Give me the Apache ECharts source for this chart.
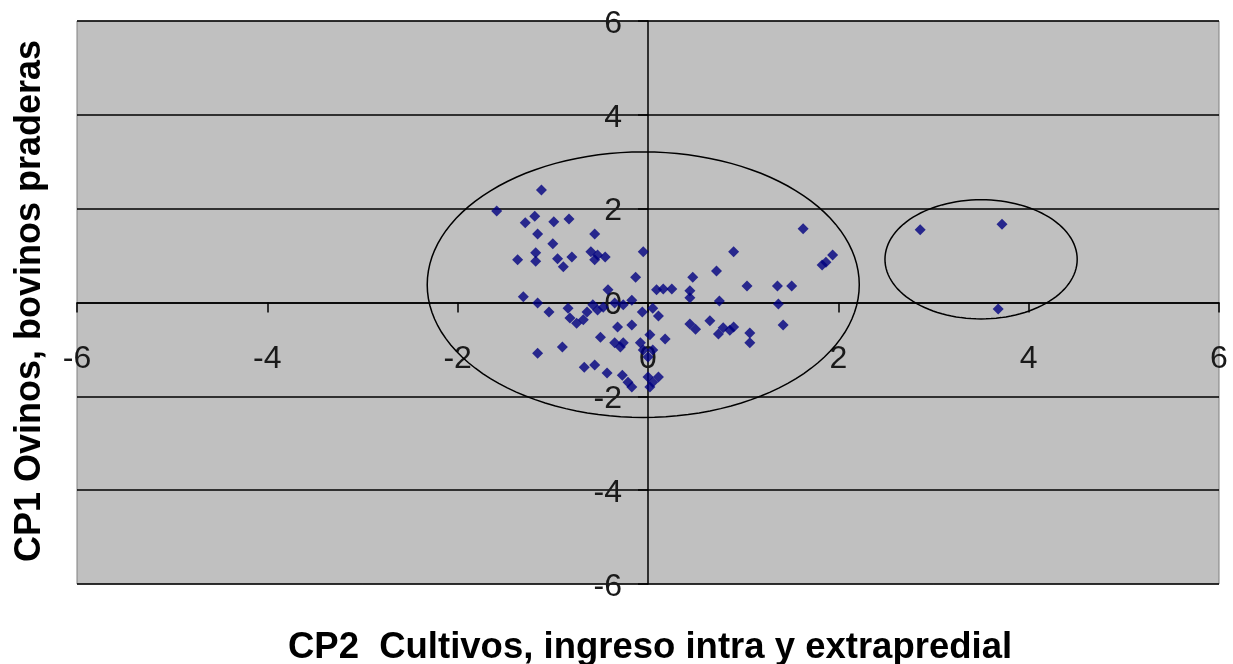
<!DOCTYPE html>
<html>
<head>
<meta charset="utf-8">
<title>CP1 vs CP2</title>
<script src="https://cdn.jsdelivr.net/npm/echarts@6/dist/echarts.min.js"></script>
<style>
  html, body { margin: 0; padding: 0; background: #ffffff; }
  #chart { width: 1233px; height: 664px; }
</style>
</head>
<body>
<div id="chart"></div>
<script>
// Component scores: CP2 on the horizontal axis, CP1 on the vertical axis
const cp2 = [
  -1.12, -1.59, -1.19, -1.29, -0.99, -0.83, -1.16, -1.00, -0.56, -1.37,
  -1.18, -1.18, -0.95, -0.89, -0.80, -0.60, -0.56, -0.45, -0.53, -0.05,
  -0.13, -0.42, -1.31, -1.16, -1.04, -0.84, -0.82, -0.75, -0.68, -0.64,
  -0.58, -0.53, -0.47, -0.35, -0.26, -0.17, -0.06, 0.05, 0.11, 0.09,
  0.16, 0.25, 0.44, 0.44, 0.47, -0.32, -0.17, -0.50, -0.35, -0.29,
  -0.26, 0.02, 0.18, -0.08, -0.05, 0.00, 0.05, -1.16, -0.90, -0.67,
  -0.56, -0.43, -0.27, -0.21, -0.17, 0.00, 0.05, 0.02, 0.11, 0.44,
  0.50, 0.65, 0.75, 0.72, 0.90, 1.04, 1.36, 1.51, 1.37, 0.79,
  0.86, 0.90, 0.74, 1.07, 1.07, 1.42, 1.63, 1.94, 1.83, 1.87,
  2.86, 3.72, 3.68
];
const cp1 = [
  2.40, 1.95, 1.84, 1.70, 1.72, 1.78, 1.46, 1.25, 1.46, 0.91,
  1.06, 0.88, 0.93, 0.76, 0.97, 1.08, 0.91, 0.97, 1.01, 1.08,
  0.54, 0.27, 0.12, -0.01, -0.20, -0.12, -0.33, -0.44, -0.37, -0.20,
  -0.05, -0.16, -0.10, -0.01, -0.05, 0.05, -0.20, -0.12, -0.29, 0.27,
  0.29, 0.29, 0.25, 0.10, 0.54, -0.52, -0.48, -0.74, -0.86, -0.95,
  -0.86, -0.69, -0.78, -0.86, -1.01, -1.16, -1.01, -1.08, -0.95, -1.38,
  -1.33, -1.50, -1.55, -1.70, -1.80, -1.59, -1.70, -1.80, -1.59, -0.46,
  -0.57, -0.39, 0.03, 0.67, 1.08, 0.35, 0.35, 0.35, -0.03, -0.54,
  -0.59, -0.52, -0.67, -0.65, -0.86, -0.48, 1.57, 1.01, 0.80, 0.86,
  1.55, 1.67, -0.14
];

// Group outlines: centre and half-axes in data units
const groupCx = [-0.05, 3.50];
const groupCy = [0.38, 0.92];
const groupRx = [2.27, 1.01];
const groupRy = [2.83, 1.27];

// Axis ticks shared by both axes
const axisTicks = [-6, -4, -2, 0, 2, 4, 6];

const xTitle = 'CP2  Cultivos, ingreso intra y extrapredial';
const yTitle = 'CP1 Ovinos, bovinos praderas';

const points = cp2.map((x, i) => [x, cp1[i]]);
const groups = groupCx.map((c, i) => [c, groupCy[i], groupRx[i], groupRy[i]]);

const tickMin = axisTicks[0];
const tickMax = axisTicks[axisTicks.length - 1];
const tickStep = axisTicks[1] - axisTicks[0];

const FONT = 'Liberation Sans, Arial, sans-serif';
const labelFont = { fontFamily: FONT, fontSize: 32, color: '#1a1a1a' };
const axisLineStyle = { color: '#000', width: 1.5 };

const chart = echarts.init(document.getElementById('chart'), null, { renderer: 'canvas' });

chart.setOption({
  animation: false,
  backgroundColor: '#ffffff',
  grid: {
    left: 77,
    right: 14,
    top: 21,
    bottom: 80,
    show: true,
    backgroundColor: '#c0c0c0',
    borderColor: '#808080',
    borderWidth: 1
  },
  xAxis: {
    type: 'value',
    min: tickMin,
    max: tickMax,
    interval: tickStep,
    axisLine: { show: true, onZero: false, lineStyle: axisLineStyle },
    axisTick: { show: true, length: 10, lineStyle: axisLineStyle },
    axisLabel: Object.assign({ margin: 41, showMinLabel: true, showMaxLabel: true }, labelFont),
    splitLine: { show: false }
  },
  yAxis: {
    type: 'value',
    min: tickMin,
    max: tickMax,
    interval: tickStep,
    axisLine: { show: true, onZero: false, lineStyle: axisLineStyle },
    axisTick: { show: true, length: 10, lineStyle: axisLineStyle },
    axisLabel: Object.assign({
      margin: 26,
      showMinLabel: true,
      showMaxLabel: true,
      // labels sit a couple of pixels below their tick
      formatter: function (v) { return '{n|' + v + '}'; },
      rich: { n: Object.assign({ padding: [6, 0, 0, 0] }, labelFont) }
    }, labelFont),
    splitLine: { show: true, lineStyle: { color: '#000', width: 1.5 } }
  },
  graphic: [
    {
      type: 'text',
      x: 650,
      y: 648,
      style: {
        text: xTitle,
        fontFamily: FONT,
        fontWeight: 'bold',
        fontSize: 36.5,
        fill: '#000',
        align: 'center',
        verticalAlign: 'middle'
      }
    },
    {
      type: 'text',
      x: 30,
      y: 301,
      rotation: Math.PI / 2,
      style: {
        text: yTitle,
        fontFamily: FONT,
        fontWeight: 'bold',
        fontSize: 36,
        fill: '#000',
        align: 'center',
        verticalAlign: 'middle'
      }
    }
  ],
  series: [
    {
      type: 'custom',
      data: groups,
      encode: { x: 0, y: 1 },
      silent: true,
      z: 2,
      renderItem: function (params, api) {
        const cx = api.value(0), cy = api.value(1);
        const rx = api.value(2), ry = api.value(3);
        const pts = [];
        const steps = 120;
        for (let k = 0; k < steps; k++) {
          const t = (k / steps) * Math.PI * 2;
          pts.push(api.coord([cx + rx * Math.cos(t), cy + ry * Math.sin(t)]));
        }
        return {
          type: 'polygon',
          shape: { points: pts },
          style: { fill: 'none', stroke: '#000', lineWidth: 1.5 }
        };
      }
    },
    {
      type: 'scatter',
      data: points,
      symbol: 'diamond',
      symbolSize: 11,
      z: 3,
      itemStyle: { color: '#000080' }
    }
  ]
});

// Move both axes (line, ticks and labels) so they cross at the origin
const origin = chart.convertToPixel({ gridIndex: 0 }, [0, 0]);
const corner = chart.convertToPixel({ gridIndex: 0 }, [tickMin, tickMin]);
chart.setOption({
  xAxis: { offset: -(corner[1] - origin[1]) },
  yAxis: { offset: -(origin[0] - corner[0]) }
});
</script>
</body>
</html>
